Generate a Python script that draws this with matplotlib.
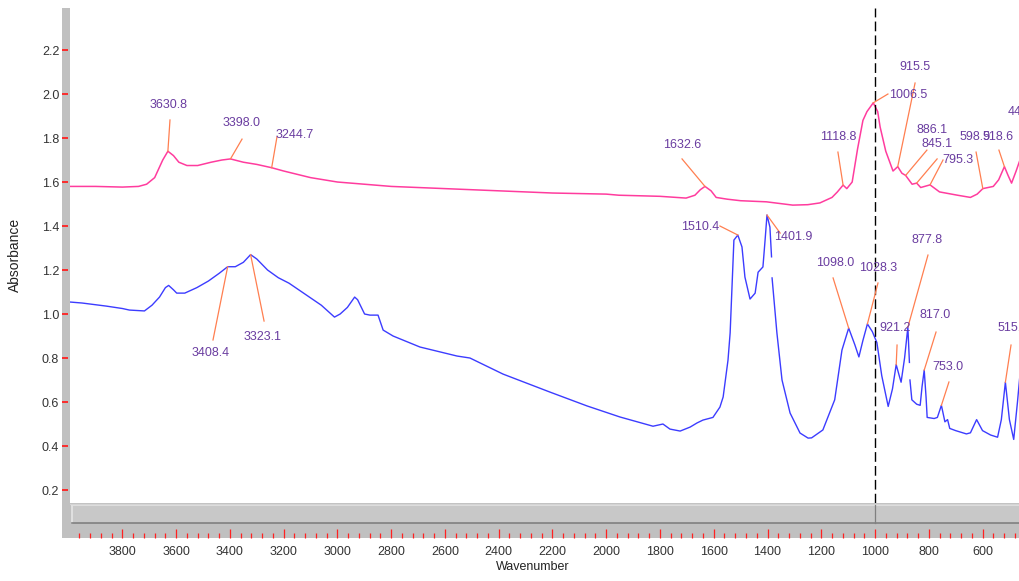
import numpy as np
import matplotlib
matplotlib.use("Agg")
import matplotlib.pyplot as plt
from matplotlib import font_manager
from matplotlib.ticker import MultipleLocator, FuncFormatter
from matplotlib.patches import Rectangle

# espectro superior (rosa)
wn_rosa = [4000, 3900, 3800, 3740, 3710, 3680, 3650, 3630.8, 3610, 3590, 3560, 3520,
           3470, 3430, 3398.0, 3350, 3300, 3244.7, 3200, 3150, 3100, 3000, 2900, 2800,
           2700, 2600, 2400, 2200, 2000, 1953, 1800, 1703, 1670, 1650, 1632.6, 1610, 1591,
           1550, 1500, 1404, 1306, 1250, 1205, 1160, 1140, 1118.8, 1105, 1085, 1065,
           1045, 1030, 1006.5, 990, 981, 960, 945, 933, 915.5, 900, 886.1, 862, 845.1,
           830, 795.3, 760, 693, 645, 620, 598.9, 560, 540, 518.6, 505, 492, 475, 458]
abs_rosa = [1.58, 1.58, 1.577, 1.58, 1.59, 1.62, 1.70, 1.74, 1.72, 1.69, 1.675, 1.675,
            1.69, 1.70, 1.705, 1.69, 1.68, 1.665, 1.65, 1.635, 1.62, 1.60, 1.59, 1.58,
            1.575, 1.57, 1.56, 1.55, 1.545, 1.54, 1.535, 1.527, 1.54, 1.565, 1.58, 1.56, 1.53,
            1.522, 1.515, 1.51, 1.495, 1.497, 1.505, 1.53, 1.555, 1.586, 1.57, 1.60, 1.75,
            1.88, 1.92, 1.96, 1.92, 1.85, 1.74, 1.69, 1.65, 1.67, 1.64, 1.63, 1.59, 1.595,
            1.575, 1.587, 1.555, 1.54, 1.53, 1.545, 1.57, 1.58, 1.61, 1.67, 1.63, 1.595, 1.65, 1.71]

# espectro inferior (azul); NaN = tramo sin datos
wn_azul = [4000, 3950, 3860, 3800, 3774, 3718, 3690, 3662, 3640, 3628, 3610, 3598,
           3568, 3523, 3480, 3440, 3408.4, 3380, 3350, 3323.1, 3300, 3260, 3220, 3180,
           3120, 3060, 3011, 2990, 2963, 2936, 2925, 2899, 2879, 2849, 2830, 2793, 2693,
           2555, 2507, 2384, 2209, 2071, 1949, 1826, 1789, 1763, 1725, 1688, 1662, 1640,
           1603, 1577, 1565, 1547, 1539, 1525, 1510.4, 1495, 1484, 1465, 1446, 1435, 1417,
           1409, 1401.9, 1391, 1385, 1384, 1383, 1365, 1346, 1316, 1279, 1249, 1236, 1194,
           1150, 1123, 1098.0, 1075, 1060, 1045, 1028.3, 1010, 993, 975, 951, 935, 921.2,
           910, 903, 890, 877.8, 872, 871, 870, 863, 845, 832, 825, 817.0, 810, 806, 780,
           768, 753.0, 740, 730, 722, 700, 660, 645, 622, 600, 570, 544, 530, 515.0, 500,
           484, 470, 458]
abs_azul = [1.055, 1.05, 1.036, 1.025, 1.018, 1.014, 1.04, 1.077, 1.12, 1.13, 1.11, 1.095,
            1.095, 1.12, 1.15, 1.185, 1.215, 1.215, 1.235, 1.27, 1.25, 1.20, 1.165, 1.14,
            1.09, 1.04, 0.986, 1.0, 1.03, 1.077, 1.065, 1.0, 0.995, 0.995, 0.927, 0.90, 0.85,
            0.809, 0.80, 0.727, 0.645, 0.582, 0.532, 0.49, 0.50, 0.477, 0.468, 0.486, 0.505, 0.518,
            0.53, 0.577, 0.623, 0.79, 0.914, 1.336, 1.359, 1.305, 1.168, 1.068, 1.095, 1.19, 1.214,
            1.336, 1.45, 1.395, 1.26, np.nan, 1.164, 0.914, 0.70, 0.55, 0.459, 0.436, 0.437, 0.473,
            0.61, 0.836, 0.936, 0.86, 0.805, 0.88, 0.955, 0.92, 0.87, 0.72, 0.58, 0.66, 0.77,
            0.72, 0.69, 0.80, 0.94, 0.78, np.nan, 0.70, 0.61, 0.59, 0.585, 0.67, 0.745, 0.62, 0.53, 0.525,
            0.53, 0.585, 0.51, 0.52, 0.48, 0.47, 0.455, 0.46, 0.52, 0.47, 0.45, 0.44, 0.52, 0.69, 0.52,
            0.43, 0.60, 0.76]

# etiquetas de picos: texto, posición del texto, inicio de la línea guía
picos_rosa = ["3630.8", "3398.0", "3244.7", "1632.6", "1118.8", "1006.5", "915.5",
              "886.1", "845.1", "795.3", "598.9", "518.6"]
texto_rosa = [(3630, 1.95), (3355, 1.868), (3158, 1.814), (1718, 1.768), (1138, 1.805),
              (877, 1.995), (851, 2.123), (788, 1.836), (769, 1.773), (691, 1.70),
              (628, 1.805), (542, 1.805)]
guia_rosa = [(3623, 1.882), (3355, 1.795), (3225, 1.805), (1718, 1.705), (1138, 1.736),
             (952, 2.0), (851, 2.05), (807, 1.745), (769, 1.705), (747, 1.70),
             (624, 1.736), (539, 1.745)]

picos_azul = ["3408.4", "3323.1", "1510.4", "1401.9", "1098.0", "1028.3", "921.2",
              "877.8", "817.0", "753.0", "515.0"]
texto_azul = [(3470, 0.823), (3277, 0.895), (1651, 1.395), (1305, 1.35), (1149, 1.232),
              (989, 1.209), (926, 0.936), (807, 1.336), (777, 0.995), (728, 0.759),
              (546, 0.936)]
guia_azul = [(3463, 0.882), (3273, 0.968), (1577, 1.40), (1353, 1.368), (1156, 1.164),
             (989, 1.141), (918, 0.859), (803, 1.268), (773, 0.918), (725, 0.691),
             (494, 0.859)]

W, H = 1020, 581
XMIN, XMAX = 3995, 460.6

nombres = {f.name for f in font_manager.fontManager.ttflist}
if "Liberation Sans Narrow" in nombres:
    angosta = "Liberation Sans Narrow"
elif "Liberation Sans" in nombres:
    angosta = "Liberation Sans"
else:
    angosta = "DejaVu Sans"
normal = "Liberation Sans" if "Liberation Sans" in nombres else "DejaVu Sans"

C_ROSA = "#FF3C9E"
C_AZUL = "#3C3CFF"
C_TXT = "#6A3DA0"
C_GUIA = "#FF7F50"
GRIS = "#C0C0C0"


def pico(wn, ab, w0):
    wn = np.asarray(wn, float)
    ab = np.asarray(ab, float)
    ok = ~np.isnan(ab)
    return np.interp(w0, wn[ok][::-1], ab[ok][::-1])


def caja(x0, y0, x1, y1):
    # píxeles (origen arriba a la izquierda) -> fracción de figura
    return [x0 / W, (H - y1) / H, (x1 - x0) / W, (y1 - y0) / H]


fig = plt.figure(figsize=(W / 100, H / 100), dpi=100)
fig.patch.set_facecolor("white")

ax = fig.add_axes(caja(70, 8, 1020, 503))
ax.set_xlim(XMIN, XMAX)
ax.set_ylim(0.141, 2.391)
ax.axis("off")

ax.plot(wn_rosa, abs_rosa, color=C_ROSA, lw=1.1)
ax.plot(wn_azul, abs_azul, color=C_AZUL, lw=1.0)
ax.axvline(1000, color="black", lw=1.0, dashes=(7, 3))

for serie, textos, guias, wn, ab in [(picos_rosa, texto_rosa, guia_rosa, wn_rosa, abs_rosa),
                                     (picos_azul, texto_azul, guia_azul, wn_azul, abs_azul)]:
    for et, (tx, ty), (gx, gy) in zip(serie, textos, guias):
        w0 = float(et)
        ax.plot([gx, w0], [gy, pico(wn, ab, w0)], color=C_GUIA, lw=0.9)
        ha = "left" if et == "515.0" else "center"
        ax.text(tx, ty, et, ha=ha, va="center", color=C_TXT, fontsize=9,
                family=angosta, clip_on=False)

# etiqueta cortada en el borde derecho
ax.text(505, 1.918, "448.0", ha="left", va="center", color=C_TXT, fontsize=9,
        family=angosta, clip_on=False)

# barra gris izquierda con la escala de absorbancia
axy = fig.add_axes(caja(62, 8, 70, 538))
axy.set_facecolor(GRIS)
axy.set_ylim(-0.018, 2.391)
axy.set_xticks([])
axy.set_yticks(np.arange(0.2, 2.3, 0.2))
axy.yaxis.set_major_formatter(FuncFormatter(lambda v, p: f"{v:.1f}"))
axy.tick_params(axis="y", direction="in", length=4, width=1.3, color="#FF2020",
                labelsize=9, labelcolor="#333333", pad=2)
for lab in axy.get_yticklabels():
    lab.set_family(angosta)
for s in axy.spines.values():
    s.set_visible(False)

# barra inferior con la escala de número de onda
axx = fig.add_axes(caja(70, 503, 1020, 538))
axx.set_facecolor(GRIS)
axx.set_xlim(XMIN, XMAX)
axx.set_ylim(0, 1)
axx.set_yticks([])
axx.xaxis.set_major_locator(MultipleLocator(200))
axx.xaxis.set_minor_locator(MultipleLocator(40))
axx.xaxis.set_major_formatter(FuncFormatter(lambda v, p: "" if v > 3900 else f"{v:.0f}"))
axx.tick_params(axis="x", which="major", direction="in", length=6.5, width=0.9,
                color="#FF2020", labelsize=9, labelcolor="#333333", pad=6)
axx.tick_params(axis="x", which="minor", direction="in", length=3.5, width=0.9,
                color="#FF2020")
for lab in axx.get_xticklabels():
    lab.set_family(angosta)
for s in axx.spines.values():
    s.set_visible(False)

# barra de desplazamiento
axx.add_patch(Rectangle((2 / 950, 15 / 35), 1, 18 / 35, transform=axx.transAxes,
                        facecolor="#C8C8C8", edgecolor="none"))
axx.plot([2 / 950, 1], [33 / 35, 33 / 35], transform=axx.transAxes, color="#E6E6E6", lw=1.2)
axx.plot([2 / 950, 2 / 950], [15 / 35, 33 / 35], transform=axx.transAxes, color="#E6E6E6", lw=1.2)
axx.plot([2 / 950, 1], [15 / 35, 15 / 35], transform=axx.transAxes, color="#808080", lw=1.2)
axx.plot([0, 1], [34.5 / 35, 34.5 / 35], transform=axx.transAxes, color="#D4D4D4", lw=1.0)
axx.plot([1000, 1000], [15 / 35, 33 / 35], color="#808080", lw=0.9)

fig.text(15 / W, 1 - 255 / H, "Absorbance", rotation=90, ha="center", va="center",
         fontsize=10, family=normal, color="#222222")
fig.text(533 / W, 1 - 567 / H, "Wavenumber", ha="center", va="center",
         fontsize=9, family=angosta, color="#222222")

fig.savefig("out.png", dpi=100, facecolor="white")
